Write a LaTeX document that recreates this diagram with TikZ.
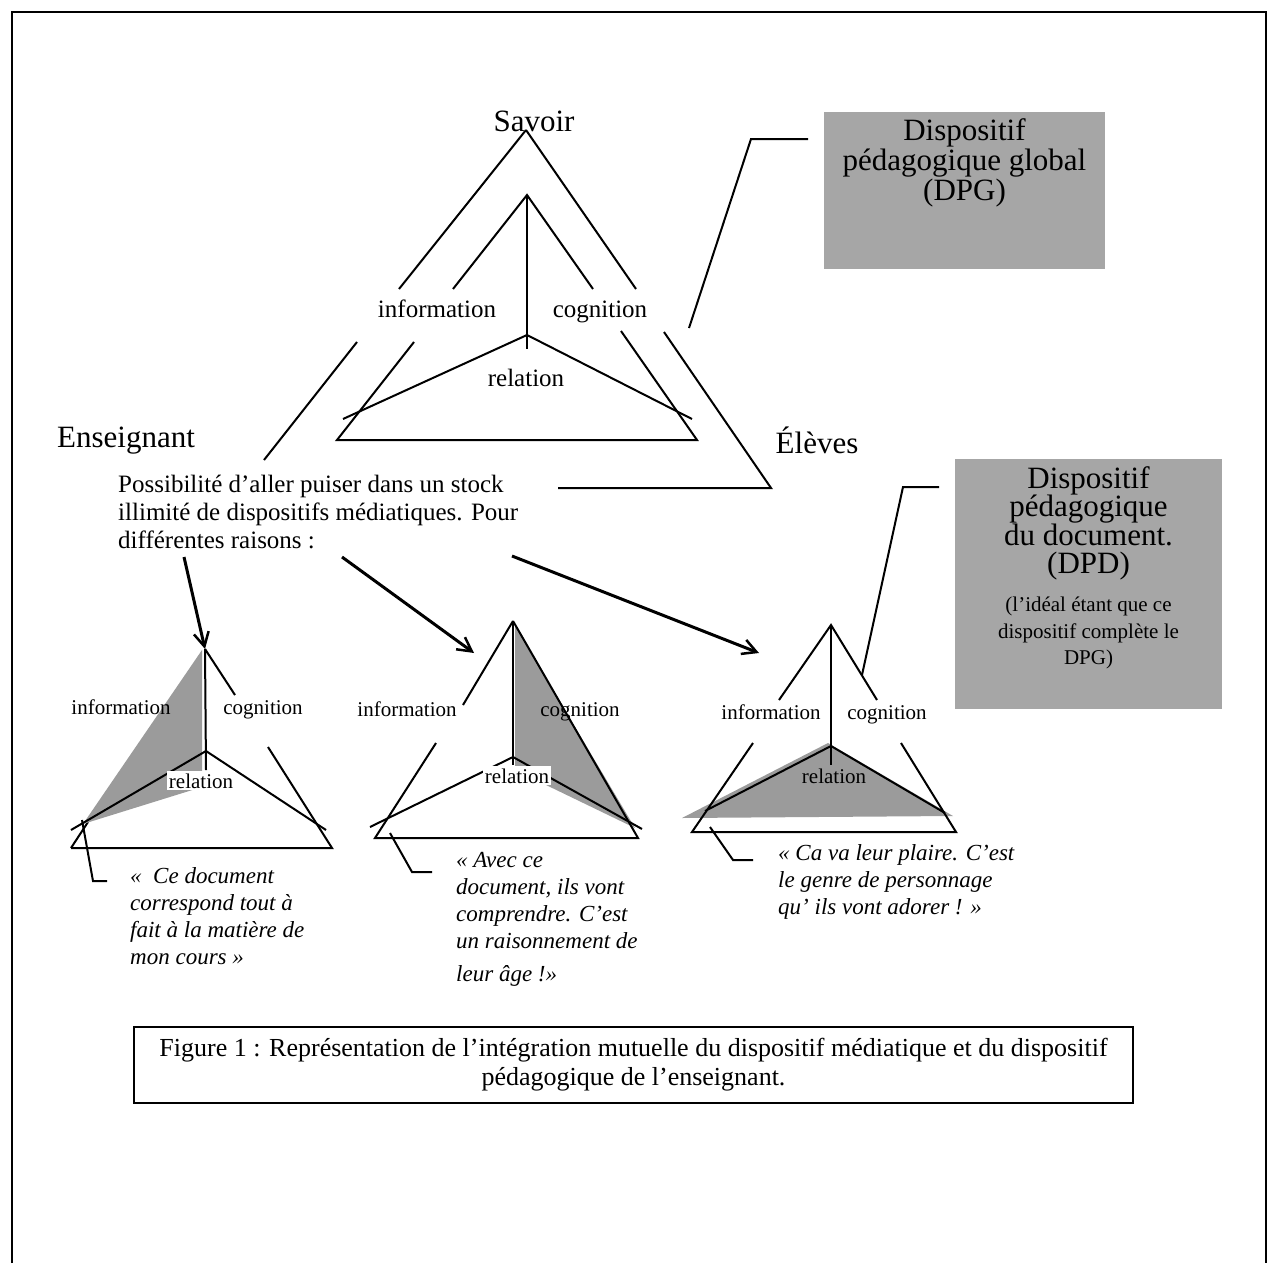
\documentclass[tikz,border=0pt]{standalone}
\usepackage{fontspec}
\setmainfont{Liberation Serif}
\usetikzlibrary{arrows.meta}
\definecolor{boxgray}{HTML}{A6A6A6}
\definecolor{facegray}{HTML}{9B9B9B}
\begin{document}
\begin{tikzpicture}[x=1pt,y=-1pt,
  ln/.style={line width=2pt},
  arr/.style={line width=3pt,-{Straight Barb[length=14pt,width=15pt,line width=2.5pt]}},
  big/.style={font=\fontsize{31}{33}\selectfont,inner sep=0pt,anchor=base},
  toplbl/.style={font=\fontsize{25}{28}\selectfont,inner sep=0pt,anchor=base},
  smlbl/.style={font=\fontsize{21}{24}\selectfont,inner sep=0pt,anchor=base},
  quotetxt/.style={font=\fontsize{23}{27}\selectfont\itshape,inner sep=0pt,anchor=north west,align=left},
  face/.style={fill=facegray,draw=none},
  grayblock/.style={fill=boxgray,draw=none,inner sep=0pt},
]
\useasboundingbox (0,0) rectangle (1279,1263);
% frame
\coordinate (f1) at (12,1263);
\coordinate (f2) at (12,12);
\coordinate (f3) at (1266,12);
\coordinate (f4) at (1266,1263);
\draw[ln] (f1)--(f2)--(f3)--(f4);

% ---------- top triangle ----------
\coordinate (Sa) at (526,130);
\coordinate (Ia) at (527,195);
\coordinate (Ic) at (527,335);
\draw[ln] (Sa)--(399,289);
\draw[ln] (Sa)--(636,289);
\draw[ln] (357,342)--(264,460);
\draw[ln] (664,332)--(771,488)--(558,488);
\draw[ln] (453,289)--(Ia)--(593,289);
\draw[ln] (Ia)--(527,349);
\draw[ln] (343,419)--(Ic)--(692,419);
\draw[ln] (414,342)--(337,440)--(697,440)--(621,331);
\node[big] (savoir) at (534,131) {Savoir};
\node[toplbl] (info0) at (437,317) {information};
\node[toplbl] (cog0) at (600,317) {cognition};
\node[toplbl] (rel0) at (526,386) {relation};
\node[big] (ens) at (126,447) {Enseignant};
\node[big] (eleves) at (817,453) {Élèves};

% DPG box
\node[grayblock,minimum width=281pt,minimum height=157pt] (dpg) at (964.5,190.5) {};
\node[font=\fontsize{31}{30}\selectfont,align=center,anchor=north,inner sep=0pt] (dpgtxt) at (964.5,118) {Dispositif\\pédagogique global\\(DPG)};
\coordinate (dpgfoot) at (689,328);
\coordinate (dpgbend) at (751,139);
\coordinate (dpgend) at (808,139);
\draw[ln] (dpgfoot)--(dpgbend)--(dpgend);

% text block
\node[font=\fontsize{25}{28}\selectfont,align=left,anchor=north west,inner sep=0pt] (poss) at (118,475) {Possibilité d’aller puiser dans un stock\\illimité de dispositifs médiatiques. Pour\\différentes raisons :};

% ---------- triangle 1 ----------
\coordinate (A1) at (205,649);
\coordinate (C1) at (206,751);
\draw[ln] (71,848)--(88,822);
\fill[face] (202,650)--(202,787)--(83,824)--cycle;
\draw[ln] (71,848)--(332,848)--(268,747);
\draw[ln] (A1)--(235,695);
\draw[ln] (A1)--(206,770);
\draw[ln] (71,830)--(C1)--(326,830);
\node[smlbl,fill=white,inner sep=2pt] (rel1) at (201,788) {relation};
\node[smlbl] (info1) at (121,714) {information};
\node[smlbl] (cog1) at (263,714) {cognition};
\draw[ln] (82,820)--(93,881)--(107,881);
\node[quotetxt] (q1) at (130,867) {«~~Ce document\\correspond tout à\\fait à la matière de\\mon cours »};

% ---------- triangle 2 ----------
\coordinate (A2) at (513,621);
\coordinate (C2) at (513,757);
\fill[face] (515,626)--(515,770)--(635,828)--cycle;
\draw[ln] (A2)--(463,705);
\draw[ln] (A2)--(513,765);
\draw[ln] (A2)--(638,838)--(375,838)--(436,743);
\draw[ln] (370,827)--(C2)--(642,829);
\node[smlbl,fill=white,inner sep=2pt] (rel2) at (517,783) {relation};
\node[smlbl] (info2) at (407,716) {information};
\node[smlbl] (cog2) at (580,716) {cognition};
\draw[ln] (390,833)--(412,872)--(432,872);
\node[quotetxt] (q2) at (456,852) {« Avec ce\\document, ils vont\\comprendre. C’est\\un raisonnement de\\[6pt]leur âge !»};

% ---------- triangle 3 ----------
\coordinate (A3) at (831,625);
\coordinate (C3) at (831,746);
\fill[face] (828,743)--(953,816)--(682,818)--cycle;
\draw[ln] (779,700)--(A3)--(877,700);
\draw[ln] (A3)--(831,765);
\draw[ln] (753,743)--(692,832)--(956,832)--(901,743);
\draw[ln] (705,811)--(C3)--(945,813);
\node[smlbl] (rel3) at (834,783) {relation};
\node[smlbl] (info3) at (771,719) {information};
\node[smlbl] (cog3) at (887,719) {cognition};
\draw[ln] (710,827)--(733,860)--(753,860);
\node[quotetxt] (q3) at (778,844) {« Ca va leur plaire. C’est\\le genre de personnage\\qu’ ils vont adorer ! »};

% DPD box
\node[grayblock,minimum width=267pt,minimum height=250pt] (dpd) at (1088.5,584) {};
\node[font=\fontsize{31}{28.5}\selectfont,align=center,anchor=north,inner sep=0pt] (dpdtxt) at (1088.5,466) {Dispositif\\pédagogique\\du document.\\(DPD)};
\node[font=\fontsize{21}{26.5}\selectfont,align=center,anchor=north,inner sep=0pt] (dpdnote) at (1088.5,597) {(l’idéal étant que ce\\dispositif complète le\\DPG)};
\coordinate (dpdfoot) at (862,675);
\coordinate (dpdbend) at (903,487);
\coordinate (dpdend) at (939,487);
\draw[ln] (dpdfoot)--(dpdbend)--(dpdend);

% arrows
\coordinate (s1) at (184,557);
\coordinate (s2) at (342,557);
\coordinate (s3) at (512,556);
\coordinate (e2) at (474,653);
\coordinate (e3) at (759,653);
\draw[arr] (s1)--(A1);
\draw[arr] (s2)--(e2);
\draw[arr] (s3)--(e3);

% caption
\node[draw,line width=1.5pt,minimum width=999pt,minimum height=76pt,align=center,font=\fontsize{26}{29}\selectfont] (cap) at (633.5,1065) {Figure 1 : Représentation de l’intégration mutuelle du dispositif médiatique et du dispositif\\pédagogique de l’enseignant.};
\end{tikzpicture}
\end{document}
